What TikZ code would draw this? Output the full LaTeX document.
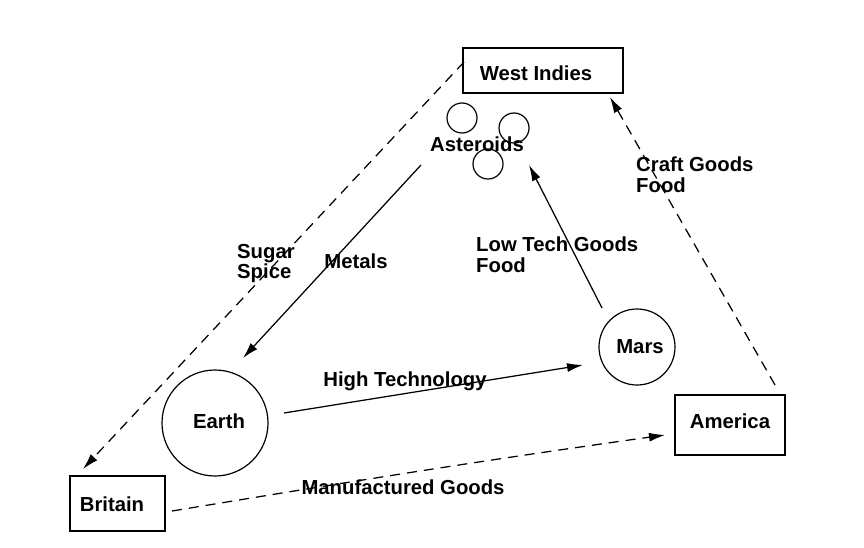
\documentclass[tikz,border=0pt]{standalone}
\usepackage{fontspec}
\setmainfont{Liberation Sans}
\usetikzlibrary{arrows.meta}
\begin{document}
\begin{tikzpicture}[x=1pt,y=-1pt,
  every node/.style={font=\fontsize{20.3}{20.5}\selectfont\bfseries, inner sep=0pt},
  boxnode/.style={draw, line width=1.3pt},
  planet/.style={draw, circle, line width=1.2pt},
  lbl/.style={align=left, anchor=north west},
  flow/.style={line width=1.25pt, -{Latex[length=16pt,width=9pt]}},
  trade/.style={flow, dash pattern=on 10pt off 7pt}]
\useasboundingbox (0,0) rectangle (864,548);
\node[boxnode, minimum width=160pt, minimum height=45pt] (wi) at (543,70.5) {};
\node (wit) at (536,73) {West Indies};
\node[boxnode, minimum width=95pt, minimum height=55pt] (br) at (117.5,503.5) {};
\node (brt) at (112,504) {Britain};
\node[boxnode, minimum width=110pt, minimum height=60pt] (am) at (730,425) {};
\node (amt) at (730,421) {America};
\node[planet, minimum size=106pt] (earth) at (215,423) {};
\node at (219,421) {Earth};
\node[planet, minimum size=76pt] (mars) at (637,347) {};
\node at (640,347) {Mars};
\node[planet, minimum size=30pt] (a1) at (462,118) {};
\node[planet, minimum size=30pt] (a2) at (514,128) {};
\node[planet, minimum size=30pt] (a3) at (488,164) {};
\node (ast) at (477,144) {Asteroids};
\coordinate (metS) at (421,165);
\coordinate (metE) at (243,358);
\coordinate (ltS) at (602,308);
\coordinate (ltE) at (529,165);
\coordinate (htS) at (284,413);
\coordinate (htE) at (583,365);
\coordinate (ssS) at (464,62);
\coordinate (ssE) at (83,469);
\coordinate (cgS) at (775,385);
\coordinate (cgE) at (610,97);
\coordinate (mgS) at (172,511);
\coordinate (mgE) at (665,435);
\draw[flow] (metS) -- (metE);
\draw[flow] (ltS) -- (ltE);
\draw[flow] (htS) -- (htE);
\draw[trade] (ssS) -- (ssE);
\draw[trade] (cgS) -- (cgE);
\draw[trade] (mgS) .. controls (300,490) and (450,465) .. (mgE);
\node[lbl] (l1) at (237,244) {Sugar\\Spice};
\node (l2) at (356,261) {Metals};
\node[lbl] (l3) at (476,237) {Low Tech Goods\\Food};
\node[lbl] (l4) at (636,157) {Craft Goods\\Food};
\node (l5) at (405,381) {High Technology};
\node (l6) at (403,487) {Manufactured Goods};
\end{tikzpicture}
\end{document}
